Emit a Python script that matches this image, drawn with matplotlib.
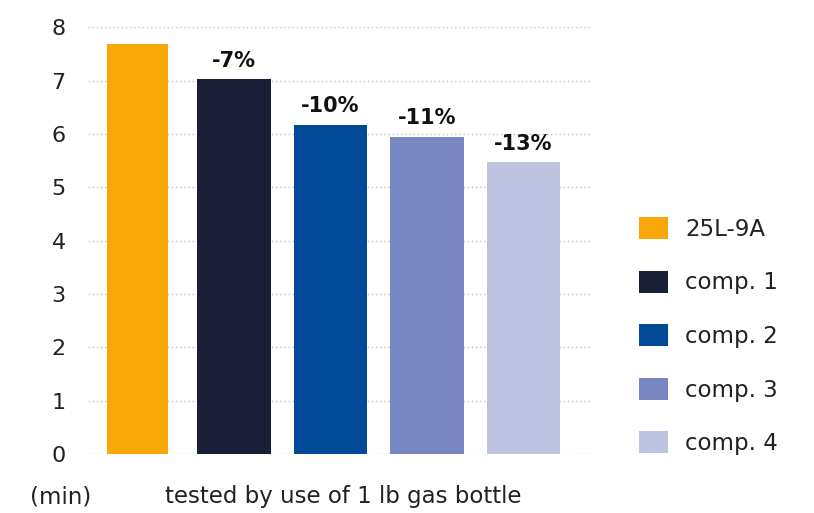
import matplotlib.pyplot as plt
import numpy as np

plt.rcParams['font.family'] = ['DejaVu Sans']

labels = ['25L-9A', 'comp. 1', 'comp. 2', 'comp. 3', 'comp. 4']
minutes = [7.68, 7.03, 6.17, 5.95, 5.47]
pct = ['', '-7%', '-10%', '-11%', '-13%']
colors = ['#F7A707', '#1A1E36', '#004A97', '#7886C2', '#BFC3E2']
yticks = [0, 1, 2, 3, 4, 5, 6, 7, 8]

fig = plt.figure(figsize=(8.14, 5.13), dpi=100)
ax = fig.add_axes([0.108, 0.115, 0.617, 0.832])

x = np.arange(len(labels))
widths = [0.63, 0.77, 0.76, 0.77, 0.76]
bars = ax.bar(x, minutes, width=widths, color=colors, label=labels, zorder=3)

for i in range(len(x)):
    if pct[i]:
        ax.annotate(pct[i], xy=(x[i], minutes[i]), xytext=(0, 6), textcoords='offset points',
                    ha='center', va='bottom', fontsize=15, fontweight='bold', color='#111111')

ax.set_xlim(-0.51, 4.69)
ax.set_ylim(0, 8)
ax.set_yticks(yticks)
ax.set_xticks([])
ax.grid(axis='y', color='#BDBDBD', linestyle=(0, (1, 2)), linewidth=1, zorder=0)
for s in ax.spines.values():
    s.set_visible(False)
ax.tick_params(axis='y', length=0, pad=16, labelsize=16, labelcolor='#222222')

leg = fig.legend(handles=list(bars), labels=labels, loc='upper left',
                 bbox_to_anchor=(0.760, 0.617), frameon=False, fontsize=16.5,
                 handlelength=1.25, handleheight=1.1, handletextpad=0.75, labelspacing=1.3)
for t in leg.get_texts():
    t.set_color('#222222')

fig.text(30/814, 1 - 497/513, '(min)', fontsize=16.5, color='#222222', va='center', ha='left')
fig.text(165/814, 1 - 497/513, 'tested by use of 1 lb gas bottle', fontsize=16.5,
         color='#222222', va='center', ha='left')

plt.savefig('out.png', dpi=100)
